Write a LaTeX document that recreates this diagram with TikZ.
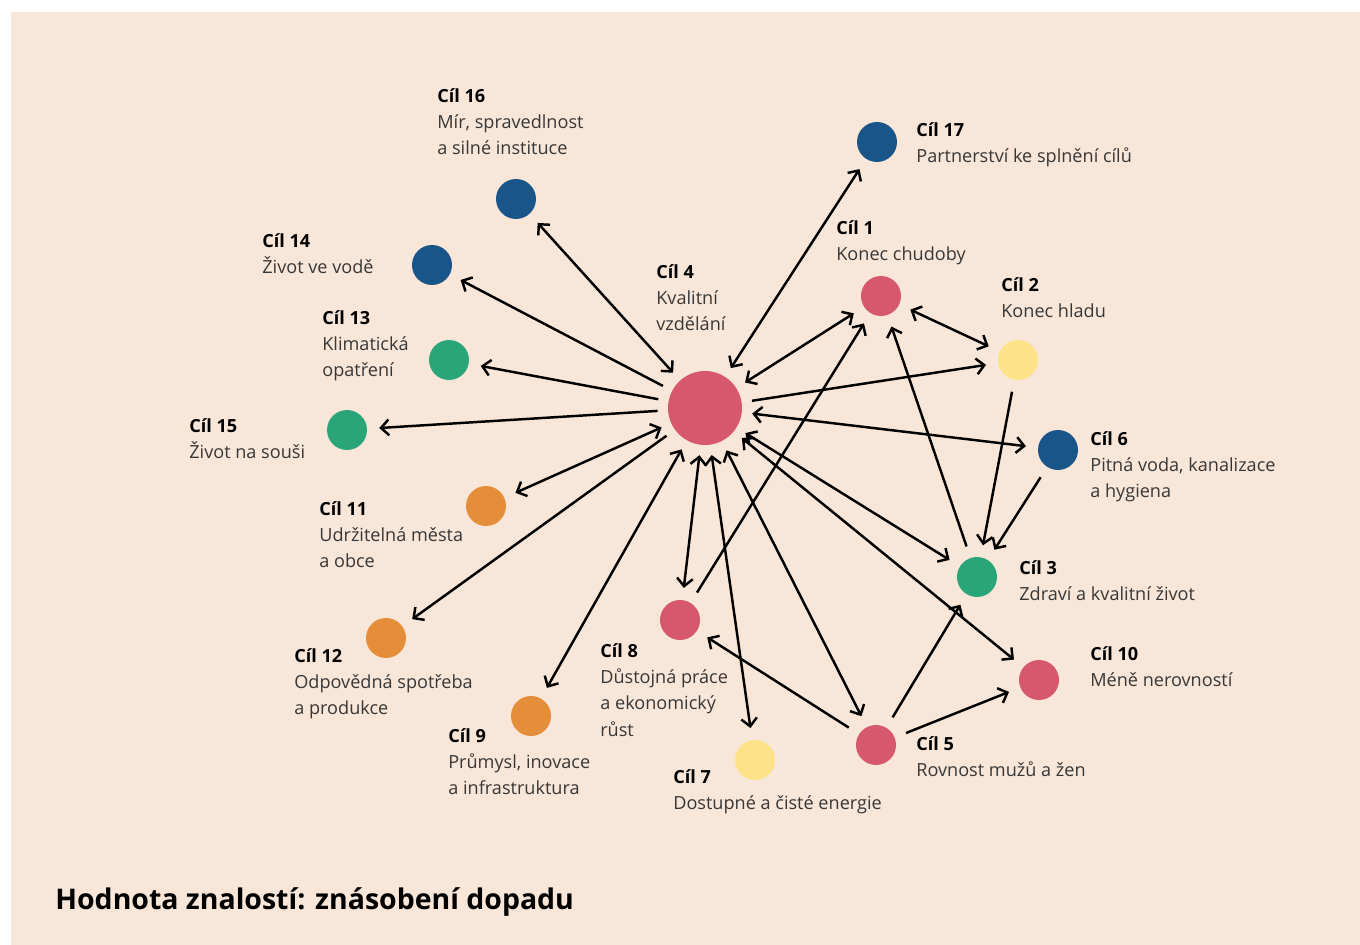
\documentclass[tikz,border=0pt]{standalone}
\usepackage{fontspec}
\setmainfont{Open Sans}
\usetikzlibrary{arrows.meta,positioning}

\definecolor{peach}{RGB}{248,230,216}
\definecolor{sdgred}{RGB}{213,88,107}
\definecolor{sdgblue}{RGB}{26,85,137}
\definecolor{sdggreen}{RGB}{42,165,120}
\definecolor{sdgorange}{RGB}{228,142,58}
\definecolor{sdgyellow}{RGB}{252,227,138}
\definecolor{txtgray}{RGB}{55,55,55}

\newcommand{\cil}[1]{{\color{black}\bfseries Cíl #1}}

\tikzset{
    goal/.style={circle, minimum size=0.8cm, inner sep=0pt, outer sep=7pt},
    hub/.style={circle, minimum size=1.48cm, inner sep=0pt, outer sep=6pt},
    lbl/.style={anchor=north west, inner sep=0pt, align=left,
        font=\fontsize{10.3}{15}\selectfont, text=txtgray},
    link/.style={line width=1.4pt, -{Straight Barb[length=4.5pt,width=9pt]}},
    both/.style={line width=1.4pt,
        {Straight Barb[length=4.5pt,width=9pt]}-{Straight Barb[length=4.5pt,width=9pt]}},
}

\begin{document}
\begin{tikzpicture}[x=0.02cm, y=-0.02cm]
\useasboundingbox (0,0) rectangle (1360,945);
\fill[white] (0,0) rectangle (1360,945);
\fill[peach] (11,12) rectangle (1360,945);

% goals
\node [hub, fill=sdgred] (c4) at (705,408) {};
\node [goal, fill=sdgred] (c1) at (881,296) {};
\node [goal, fill=sdgyellow] (c2) at (1018,360) {};
\node [goal, fill=sdggreen] (c3) at (977,577) {};
\node [goal, fill=sdgred] (c5) at (876,745) {};
\node [goal, fill=sdgblue] (c6) at (1058,450) {};
\node [goal, fill=sdgyellow] (c7) at (755,760) {};
\node [goal, fill=sdgred] (c8) at (680,620) {};
\node [goal, fill=sdgorange] (c9) at (531,716) {};
\node [goal, fill=sdgred] (c10) at (1039,680) {};
\node [goal, fill=sdgorange] (c11) at (486,506) {};
\node [goal, fill=sdgorange] (c12) at (386,638) {};
\node [goal, fill=sdggreen] (c13) at (449,360) {};
\node [goal, fill=sdgblue] (c14) at (432,265) {};
\node [goal, fill=sdggreen] (c15) at (347,430) {};
\node [goal, fill=sdgblue] (c16) at (516,199) {};
\node [goal, fill=sdgblue] (c17) at (877,142) {};

% labels
\node [lbl] (l4) at (656,264) {\cil{4}\\Kvalitní\\vzdělání};
\node [lbl] (l1) at (836,220) {\cil{1}\\Konec chudoby};
\node [lbl] (l2) at (1001,277) {\cil{2}\\Konec hladu};
\node [lbl] (l3) at (1019,560) {\cil{3}\\Zdraví a kvalitní život};
\node [lbl] (l5) at (916,736) {\cil{5}\\Rovnost mužů a žen};
\node [lbl] (l6) at (1090,431) {\cil{6}\\Pitná voda, kanalizace\\a hygiena};
\node [lbl] (l7) at (673,769) {\cil{7}\\Dostupné a čisté energie};
\node [lbl] (l8) at (600,643) {\cil{8}\\Důstojná práce\\a ekonomický\\růst};
\node [lbl] (l9) at (448,728) {\cil{9}\\Průmysl, inovace\\a infrastruktura};
\node [lbl] (l10) at (1090,646) {\cil{10}\\Méně nerovností};
\node [lbl] (l11) at (319,501) {\cil{11}\\Udržitelná města\\a obce};
\node [lbl] (l12) at (294,648) {\cil{12}\\Odpovědná spotřeba\\a produkce};
\node [lbl] (l13) at (322,310) {\cil{13}\\Klimatická\\opatření};
\node [lbl] (l14) at (262,233) {\cil{14}\\Život ve vodě};
\node [lbl] (l15) at (189,418) {\cil{15}\\Život na souši};
\node [lbl] (l16) at (437,88) {\cil{16}\\Mír, spravedlnost\\a silné instituce};
\node [lbl] (l17) at (916,122) {\cil{17}\\Partnerství ke splnění cílů};

\node [anchor=west, inner sep=0pt, font=\bfseries\fontsize{16.2}{19}\selectfont]
    (title) at (55,902) {Hodnota znalostí: znásobení dopadu};

% links from goal 4
\draw [both] (c4) -- (c16);
\draw [link] (c4) -- (c14);
\draw [link] (c4) -- (c13);
\draw [link] (c4) -- (c15);
\draw [both] (c4) -- (c11);
\draw [link] (c4) -- (c12);
\draw [both] (c4) -- (c9);
\draw [both] (c4) -- (c8);
\draw [both] (c4) -- (c7);
\draw [both] (c4) -- (c5);
\draw [both] (c4) -- (c10);
\draw [both] (c4) -- (c3);
\draw [both] (c4) -- (c6);
\draw [link] (c4) -- (c2);
\draw [both] (c4) -- (c1);
\draw [both] (c4) -- (c17);

% other links
\draw [both] (c1) -- (c2);
\draw [link] (c8) -- (c1);
\draw [link] (c3) -- (c1);
\draw [link] (c2) -- (c3);
\draw [link] (c6) -- (c3);
\draw [link] (c5) -- (c8);
\draw [link] (c5) -- (c3);
\draw [link] (c5) -- (c10);
\end{tikzpicture}
\end{document}
